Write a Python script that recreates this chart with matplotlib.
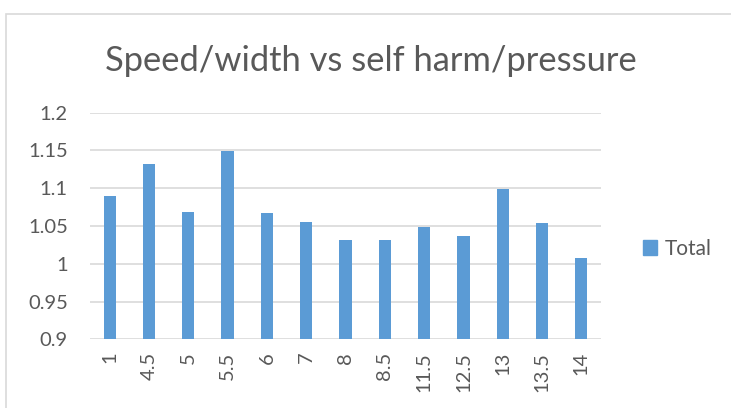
import matplotlib.pyplot as plt
import matplotlib.patches as mpatches
import numpy as np

# Data
categories = ['1', '4.5', '5', '5.5', '6', '7', '8', '8.5', '11.5', '12.5', '13', '13.5', '14']
totals = [1.090, 1.132, 1.069, 1.149, 1.067, 1.055, 1.032, 1.032, 1.049, 1.037, 1.099, 1.054, 1.008]
y_ticks = [0.9, 0.95, 1, 1.05, 1.1, 1.15, 1.2]
y_labels = ['0.9', '0.95', '1', '1.05', '1.1', '1.15', '1.2']

BAR_COLOR = '#5B9BD5'
TEXT_COLOR = '#595959'
GRID_COLOR = '#D9D9D9'

plt.rcParams['font.family'] = ['Lato', 'DejaVu Sans']

fig = plt.figure(figsize=(7.31, 4.08), dpi=100)
ax = fig.add_axes([90 / 731, 1 - 339.3 / 408, 511 / 731, 226.6 / 408])

# chart area border (cropped on the right and bottom)
fig.patches.append(mpatches.Rectangle((5.5 / 731, -0.1), 1.2, 1 - 13.5 / 408 + 0.1,
                                      transform=fig.transFigure, fill=False,
                                      edgecolor=GRID_COLOR, linewidth=1.2))

x = np.arange(len(categories))
ax.bar(x, np.array(totals) - 0.9, bottom=0.9, width=0.31, color=BAR_COLOR, zorder=3, label='Total')

ax.set_xlim(-0.5, len(categories) - 0.5)
ax.set_ylim(0.9, 1.2)
ax.set_yticks(y_ticks)
ax.set_yticklabels(y_labels)
ax.set_xticks(x)
ax.set_xticklabels(categories, rotation=90)
ax.tick_params(axis='both', length=0, labelsize=14.5, colors=TEXT_COLOR)
ax.tick_params(axis='y', pad=16)
ax.tick_params(axis='x', pad=9)

ax.grid(axis='y', color=GRID_COLOR, linewidth=1.2, zorder=0)
for s in ax.spines.values():
    s.set_visible(False)

fig.text(371 / 731, 1 - 61 / 408, 'Speed/width vs self harm/pressure', ha='center', va='center',
         fontsize=24.8, color=TEXT_COLOR)

leg = fig.legend(handles=[mpatches.Patch(color=BAR_COLOR, label='Total')],
                 loc='center left', bbox_to_anchor=(624 / 731, 1 - 249 / 408), frameon=False,
                 fontsize=15, handlelength=0.7, handleheight=0.7, handletextpad=0.35)
for t in leg.get_texts():
    t.set_color(TEXT_COLOR)

fig.savefig('out.png', dpi=100)
